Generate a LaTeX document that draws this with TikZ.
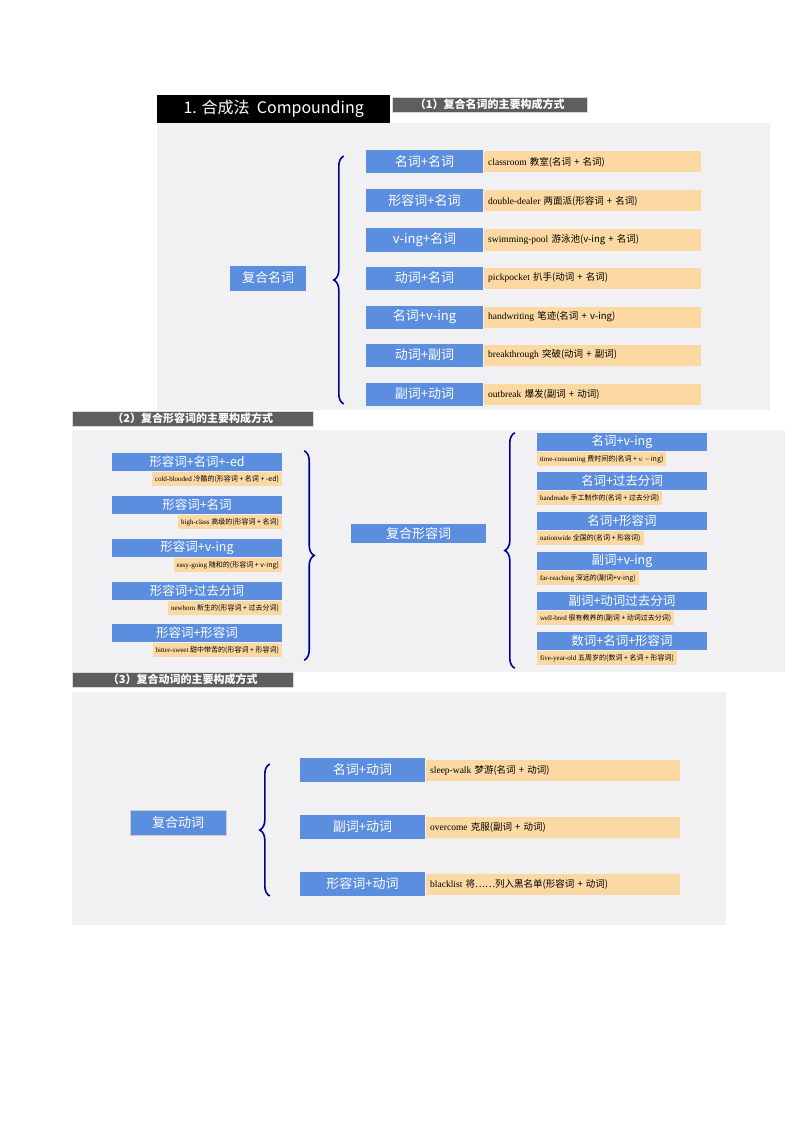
\documentclass[tikz,border=0pt]{standalone}
\usepackage{fontspec}
\setmainfont{Liberation Serif}
\newfontfamily\cjk{Noto Sans CJK SC}
\usetikzlibrary{positioning, calc, decorations.pathreplacing}
\definecolor{boxblue}{HTML}{5B8EDF}
\definecolor{exorange}{HTML}{FCD9A2}
\definecolor{panelgray}{HTML}{F1F1F3}
\definecolor{tabgray}{HTML}{5E5E5E}
\tikzset{
  panel/.style={fill=panelgray, draw=none},
  tab/.style={fill=tabgray, draw=gray!30, text=white, font=\cjk\bfseries\fontsize{11}{13}\selectfont, anchor=north west, inner xsep=6pt, inner ysep=2pt, align=left},
  kind/.style={fill=boxblue, text=white, font=\cjk\fontsize{13}{15}\selectfont, inner sep=0pt},
  smallkind/.style={fill=boxblue, text=white, font=\cjk\fontsize{12.5}{14}\selectfont, inner sep=0pt, minimum width=170pt, minimum height=18pt},
  example/.style={fill=exorange, font=\fontsize{9.5}{11}\selectfont, inner xsep=4pt, inner ysep=0pt, minimum height=22pt, anchor=west},
  tinyex/.style={fill=exorange, font=\fontsize{7}{8}\selectfont, inner xsep=3pt, inner ysep=0pt, minimum height=14pt},
  bracket/.style={draw=blue!60!black, line width=1.6pt, decorate, decoration={brace, amplitude=10pt}}
}
\begin{document}
\begin{tikzpicture}[x=1pt, y=-1pt]
\useasboundingbox (0,0) rectangle (794,1123);
\fill[white] (0,0) rectangle (794,1123);

% part 1
\fill[panel] (157,123) rectangle (770,410);
\node (title) [fill=black, text=white, font=\cjk\fontsize{16}{19}\selectfont, anchor=north west, minimum height=28pt, minimum width=233pt, inner xsep=2pt] at (157,95) {1. 合成法\ \ Compounding};
\node (tabone) [tab, minimum width=195pt, anchor=north west] at (392,97) {（1）复合名词的主要构成方式};
\node (noun) [kind, minimum width=76pt, minimum height=25pt] at (268,278) {复合名词};
\foreach \y/\k/\ex [count=\i] in {162/名词+名词/{classroom {\cjk 教室(名词 + 名词)}},
    201/形容词+名词/{double-dealer {\cjk 两面派(形容词 + 名词)}},
    240/v-ing+名词/{swimming-pool {\cjk 游泳池(v-ing + 名词)}},
    278/动词+名词/{pickpocket {\cjk 扒手(动词 + 名词)}},
    317/名词+v-ing/{handwriting {\cjk 笔迹(名词 + v-ing)}},
    355/动词+副词/{breakthrough {\cjk 突破(动词 + 副词)}},
    394/副词+动词/{outbreak {\cjk 爆发(副词 + 动词)}}} {
  \node (n\i) [kind, minimum width=117pt, minimum height=23pt] at (424.5,\y) {\k};
  \node (nx\i) [example, minimum width=217pt, text width=209pt, minimum height=21pt] at (484,\y) {\ex};
}
\draw[bracket] ($(n7.west)+(-22,10)$) -- ($(n1.west)+(-22,-6)$);

% part 2
\fill[panel] (72,430) rectangle (785,672);
\node (tabtwo) [tab, minimum width=241pt] at (72,411) {（2）复合形容词的主要构成方式};
\node (adj) [kind, minimum width=135pt, minimum height=19pt] at (418.5,533.5) {复合形容词};
\foreach \y/\k/\ex [count=\i] in {462/形容词+名词+-ed/{cold-blooded {\cjk 冷酷的(形容词 + 名词 + -ed)}},
    505/形容词+名词/{high-class {\cjk 高级的(形容词 + 名词)}},
    548/形容词+v-ing/{easy-going {\cjk 随和的(形容词 + v-ing)}},
    591/形容词+过去分词/{newborn {\cjk 新生的(形容词 + 过去分词)}},
    633/形容词+形容词/{bitter-sweet {\cjk 甜中带苦的(形容词 + 形容词)}}} {
  \node (a\i) [smallkind] at (197,\y) {\k};
  \node (ax\i) [tinyex, below=1pt of a\i.south east, anchor=north east] {\ex};
}
\draw[bracket] ($(a1.north east)+(22,-2)$) -- ($(a5.south east)+(22,18)$);
\foreach \y/\k/\ex [count=\i] in {442/名词+v-ing/{time-consuming {\cjk 费时间的(名词 +} \emph{v.} {\cjk – ing)}},
    481/名词+过去分词/{handmade {\cjk 手工制作的(名词 + 过去分词)}},
    521/名词+形容词/{nationwide {\cjk 全国的(名词 + 形容词)}},
    561/副词+v-ing/{far-reaching {\cjk 深远的(副词+v-ing)}},
    601/副词+动词过去分词/{well-bred {\cjk 很有教养的(副词 + 动词过去分词)}},
    641/数词+名词+形容词/{five-year-old {\cjk 五周岁的(数词 + 名词 + 形容词)}}} {
  \node (b\i) [smallkind] at (622,\y) {\k};
  \node (bx\i) [tinyex, below=1pt of b\i.south west, anchor=north west] {\ex};
}
\draw[bracket] ($(b6.south west)+(-22,18)$) -- ($(b1.north west)+(-22,0)$);

% part 3
\fill[panel] (72,692) rectangle (726,925);
\node (tabthree) [tab, minimum width=221pt] at (72,672) {（3）复合动词的主要构成方式};
\node (verb) [kind, minimum width=96pt, minimum height=25pt, draw=gray!40] at (178,822.5) {复合动词};
\foreach \y/\k/\ex [count=\i] in {770/名词+动词/{sleep-walk {\cjk 梦游(名词 + 动词)}},
    827/副词+动词/{overcome {\cjk 克服(副词 + 动词)}},
    884/形容词+动词/{blacklist {\cjk 将……列入黑名单(形容词 + 动词)}}} {
  \node (v\i) [kind, minimum width=125pt, minimum height=24pt] at (362.5,\y) {\k};
  \node (vx\i) [example, minimum width=254pt, text width=246pt, minimum height=21pt] at (426,\y) {\ex};
}
\draw[bracket] ($(v3.west)+(-30,12)$) -- ($(v1.west)+(-30,-6)$);
\end{tikzpicture}
\end{document}
